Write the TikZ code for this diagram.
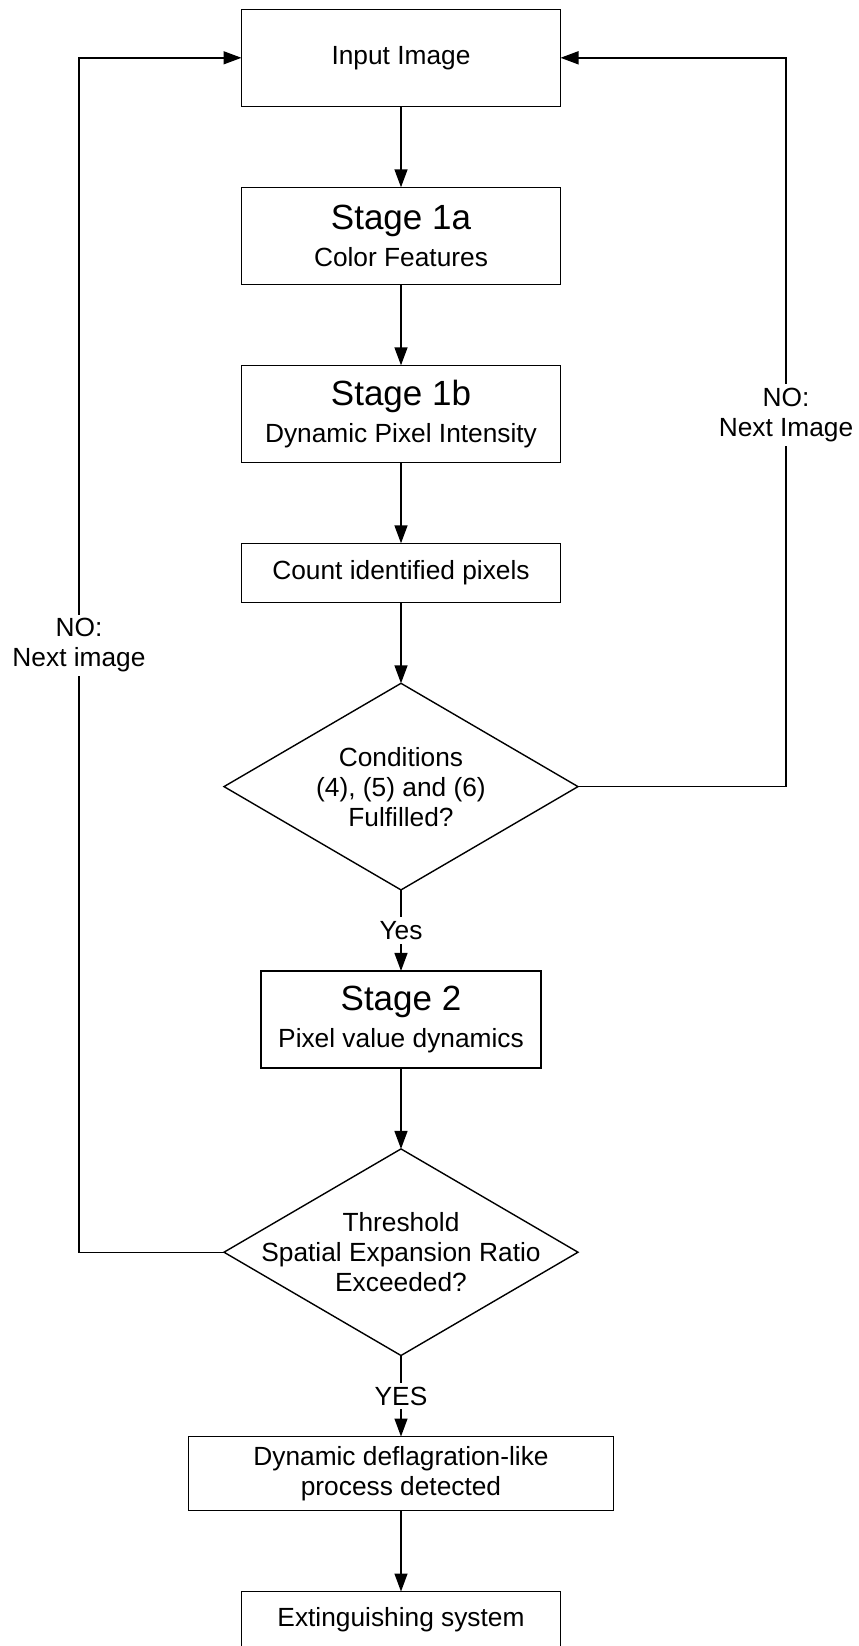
\documentclass[tikz,border=0pt]{standalone}
\usepackage{fontspec}
\setmainfont{Liberation Sans}
\usetikzlibrary{positioning,shapes.geometric,arrows.meta}
\newcommand{\flowfont}{\fontsize{13.15pt}{15pt}\selectfont}
\newcommand{\stagefont}{\fontsize{17.5pt}{20pt}\selectfont}
\begin{document}
\begin{tikzpicture}[x=0.5pt, y=-0.5pt, node distance=40.5pt, line width=0.7pt,
        >={Triangle[length=9pt,width=6.5pt]}, font=\flowfont,
        block/.style={rectangle, draw, minimum width=159.5pt, minimum height=48.5pt, align=center, inner sep=2pt, outer sep=0pt},
        decision/.style={diamond, draw, minimum width=177pt, minimum height=103.3pt, inner sep=0pt, outer sep=0pt},
        tag/.style={fill=white, align=center, inner sep=2pt}]
        \useasboundingbox (0,0) rectangle (858,1646);
        \node[block] (input) at (401,57.8) {Input Image};
        \node[block, below=of input] (stagea) {{\stagefont Stage 1a}\\[3.5pt] Color Features};
        \node[block, below=of stagea] (stageb) {{\stagefont Stage 1b}\\[3.5pt] Dynamic Pixel Intensity};
        \node[block, minimum height=29.5pt, below=of stageb] (count) {Count identified pixels};
        \node[decision, below=of count] (cond) {};
        \node[align=center] (condtext) at (cond) {Conditions\\(4), (5) and (6)\\Fulfilled?};
        \node[block, minimum width=140pt, below=of cond] (stagetwo) {{\stagefont Stage 2}\\[3.5pt] Pixel value dynamics};
        \node[decision, below=of stagetwo] (thresh) {};
        \node[align=center] (threshtext) at (thresh) {Threshold\\Spatial Expansion Ratio\\Exceeded?};
        \node[block, minimum width=212.5pt, minimum height=37pt, below=of thresh] (detect) {Dynamic deflagration-like\\process detected};
        \node[block, minimum height=28.5pt, below=of detect] (extinguish) {Extinguishing system};
        \coordinate (leftrail) at (79,0);
        \coordinate (rightrail) at (786,0);
        
        \draw[->] (input) -- (stagea);
        \draw[->] (stagea) -- (stageb);
        \draw[->] (stageb) -- (count);
        \draw[->] (count) -- (cond);
        \draw[->] (cond) -- node[tag] {Yes} (stagetwo);
        \draw[->] (stagetwo) -- (thresh);
        \draw[->] (thresh) -- node[tag] {YES} (detect);
        \draw[->] (detect) -- (extinguish);
        \draw[->] (thresh.west) -- (thresh.west -| leftrail) |- node[tag, pos=0.254] {NO:\\Next image} (input.west);
        \draw[->] (cond.east) -- (cond.east -| rightrail) |- node[tag, pos=0.255] {NO:\\Next Image} (input.east);
    \end{tikzpicture}
\end{document}
